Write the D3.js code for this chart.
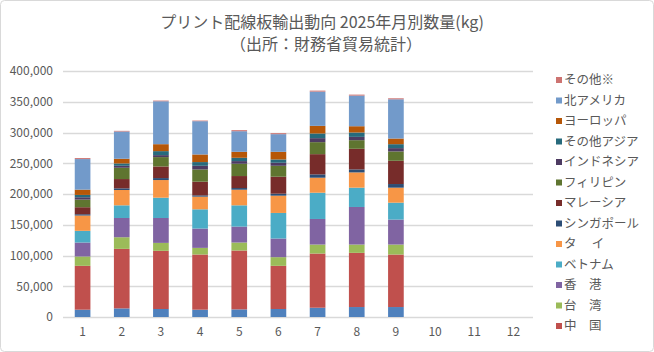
<!DOCTYPE html>
<html>
<head>
<meta charset="utf-8">
<script src="https://cdn.jsdelivr.net/npm/d3@7"></script>
<style>
  body { margin: 0; background: #fff; }
  text { font-family: "Noto Sans CJK JP", "Noto Sans", sans-serif; fill: #595959; }
</style>
</head>
<body>
<div id="chart"></div>
<script>
// months on the x axis (10-12 have no data yet)
const months = ["1", "2", "3", "4", "5", "6", "7", "8", "9", "10", "11", "12"];

// series, bottom to top; the first one is not shown in the legend
const seriesNames = ["韓　国", "中　国", "台　湾", "香　港", "ベトナム", "タ　 イ", "シンガポール",
  "マレーシア", "フィリピン", "インドネシア", "その他アジア", "ヨーロッパ", "北アメリカ", "その他※"];
const colors = ["#4F81BD", "#C0504D", "#9BBB59", "#8064A2", "#4BACC6", "#F79646", "#2C4D75",
  "#772C2A", "#5F7530", "#4D3B62", "#276A7C", "#B65708", "#729ACA", "#CD7371"];

// kg per month, Jan..Sep
const korea       = [11900, 14000, 13000, 11900, 12400, 13000, 15100, 16200, 16200];
const china       = [71300, 96800, 94600, 89700, 95700, 70200, 88100, 88100, 85400];
const taiwan      = [15200, 18900, 12900, 10800, 13000, 14100, 14600, 13500, 16200];
const hongkong    = [22700, 31300, 40500, 31400, 25900, 30300, 41600, 61100, 40600];
const vietnam     = [19000, 20600, 33000, 31300, 34600, 41600, 42700, 31400, 27500];
const thailand    = [24900, 24900, 28700, 20600, 25400, 28100, 24400, 24800, 24400];
const singapore   = [2100, 2700, 3200, 2100, 2700, 3200, 5400, 4900, 5900];
const malaysia    = [11400, 15100, 18900, 22200, 19500, 27600, 32900, 33500, 37800];
const philippines = [12400, 18400, 15200, 20000, 20000, 17800, 19500, 14000, 15200];
const indonesia   = [3800, 3200, 3200, 5900, 4300, 4900, 6500, 5400, 5400];
const otherAsia   = [3800, 3800, 6500, 6000, 5400, 5400, 7600, 7100, 6400];
const europe      = [8600, 7600, 11300, 12400, 9700, 12400, 12400, 10200, 9200];
const northAm     = [49700, 44300, 69800, 54100, 33500, 28700, 55700, 49800, 63800];
const others      = [1600, 1100, 1100, 1000, 1700, 1600, 1600, 1600, 1600];

const seriesValues = [korea, china, taiwan, hongkong, vietnam, thailand, singapore,
  malaysia, philippines, indonesia, otherAsia, europe, northAm, others];

const yTicks = [0, 50000, 100000, 150000, 200000, 250000, 300000, 350000, 400000];

const W = 654, H = 352;
const margin = {top: 71, right: 121, bottom: 35, left: 63};
const width = W - margin.left - margin.right;
const height = H - margin.top - margin.bottom;

const svg = d3.select("#chart")
    .append("svg")
    .attr("width", W)
    .attr("height", H);

// chart border
svg.append("rect")
    .attr("x", 0.5).attr("y", 0.5)
    .attr("width", W - 1).attr("height", H - 1)
    .attr("rx", 4)
    .attr("fill", "#fff")
    .attr("stroke", "#D9D9D9");

// title
svg.append("text")
    .attr("x", 322).attr("y", 28)
    .attr("text-anchor", "middle")
    .style("font-size", "16px")
    .text("プリント配線板輸出動向 2025年月別数量(kg)");
svg.append("text")
    .attr("x", 326).attr("y", 50)
    .attr("text-anchor", "middle")
    .style("font-size", "16px")
    .text("（出所：財務省貿易統計）");

const g = svg.append("g")
    .attr("transform", `translate(${margin.left},${margin.top})`);

// build table rows for the stack
const rows = months.map((m, i) => {
  const row = {month: m};
  seriesNames.forEach((s, k) => { row[s] = seriesValues[k][i] || 0; });
  return row;
});

const stacked = d3.stack().keys(seriesNames)(rows);

const x = d3.scaleBand()
    .domain(months)
    .range([0, width])
    .paddingInner(0.6)
    .paddingOuter(0.3);

const y = d3.scaleLinear()
    .domain([0, 400000])
    .range([height, 0]);

// gridlines
g.append("g")
    .selectAll("line")
    .data(yTicks)
    .join("line")
    .attr("x1", 0).attr("x2", width)
    .attr("y1", d => Math.round(y(d)) + 0.5)
    .attr("y2", d => Math.round(y(d)) + 0.5)
    .attr("stroke", "#D9D9D9")
    .attr("stroke-width", 1.3);

// y axis
const yAxis = g.append("g")
    .call(d3.axisLeft(y).tickValues(yTicks).tickSize(0).tickPadding(10)
      .tickFormat(d3.format(",")));
yAxis.select(".domain").remove();
yAxis.selectAll("text").style("font-size", "12px").attr("fill", "#595959");

// x axis
const xAxis = g.append("g")
    .attr("transform", `translate(0,${height})`)
    .call(d3.axisBottom(x).tickSize(0).tickPadding(10));
xAxis.select(".domain").remove();
xAxis.selectAll("text").style("font-size", "12px").attr("fill", "#595959");

// bars
g.append("g")
    .selectAll("g")
    .data(stacked)
    .join("g")
    .attr("fill", (d, i) => colors[i])
    .selectAll("rect")
    .data(d => d)
    .join("rect")
    .attr("x", d => x(d.data.month))
    .attr("y", d => y(d[1]))
    .attr("width", x.bandwidth())
    .attr("height", d => y(d[0]) - y(d[1]));

// legend, top entry is the last series; the first series has no entry
const legendItems = seriesNames.slice(1).map((s, k) => ({name: s, color: colors[k + 1]})).reverse();

const legend = svg.append("g")
    .attr("transform", "translate(556,80)");

const item = legend.selectAll("g")
    .data(legendItems)
    .join("g")
    .attr("transform", (d, i) => `translate(0,${i * 20.5})`);

item.append("rect")
    .attr("x", 0).attr("y", -3)
    .attr("width", 6).attr("height", 6)
    .attr("fill", d => d.color);

item.append("text")
    .attr("x", 8).attr("y", 0)
    .attr("dy", "0.35em")
    .style("font-size", "12.5px")
    .text(d => d.name);
</script>
</body>
</html>
